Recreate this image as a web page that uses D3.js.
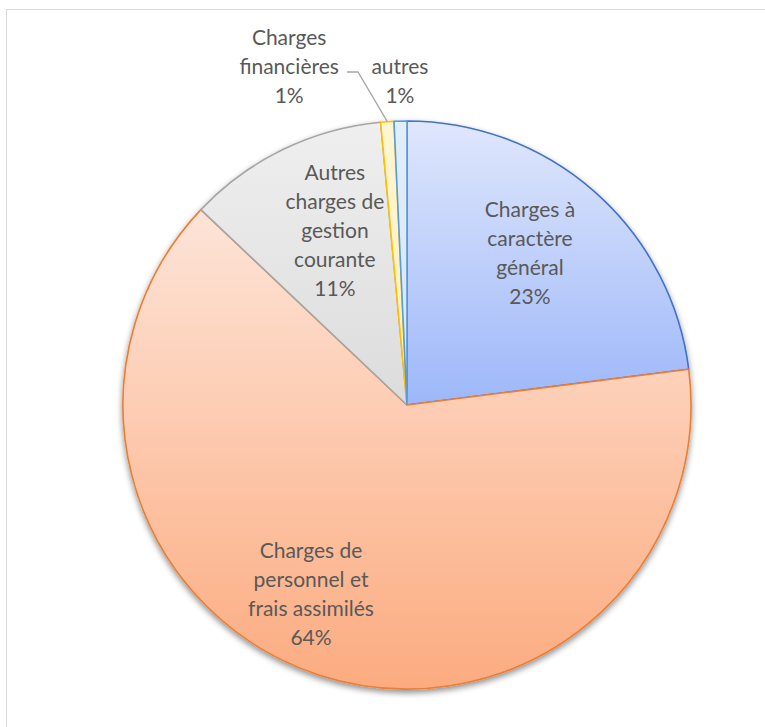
<!DOCTYPE html>
<html><head><meta charset="utf-8">
<script src="https://cdn.jsdelivr.net/npm/d3@7"></script>
<style>body{margin:0;background:#fff}svg{display:block}</style>
</head><body>
<svg id="c" width="765" height="727"></svg>
<script>
const categories = ["Charges à caractère général","Charges de personnel et frais assimilés","Autres charges de gestion courante","Charges financières","autres"];
const values = [23.0, 64.1, 11.45, 0.75, 0.73];
const labelLines = [["Charges à","caractère","général"],["Charges de","personnel et","frais assimilés"],["Autres","charges de","gestion","courante"],["Charges","financières"],["autres"]];
const strokeColors = ["#4472c4","#ed7d31","#a5a5a5","#ffc000","#5b9bd5"];
const gradTop = ["#dfe7fc","#fde4d8","#efefef","#fff5d2","#e2eefa"];
const gradBot = ["#9db7f9","#fcab7f","#dcdcdc","#fff0bf","#d3e6f7"];
// label anchors (block centres), relative to pie centre in units of radius
const labelAnchor = [[0.433,-0.535],[-0.338,0.665],[-0.254,-0.614],[-0.415,-1.19],[-0.025,-1.14]];

const W=765,H=727,cx=407,cy=405,R=284;
const svg=d3.select("#c");
const defs=svg.append("defs");
svg.append("rect").attr("x",6.5).attr("y",9.5).attr("width",900).attr("height",900)
  .attr("fill","#fff").attr("stroke","#d9d9d9").attr("stroke-width",1);

const f=defs.append("filter").attr("id","sh").attr("x","-20%").attr("y","-20%").attr("width","140%").attr("height","140%");
f.append("feGaussianBlur").attr("in","SourceAlpha").attr("stdDeviation",3).attr("result","b");
f.append("feOffset").attr("in","b").attr("dx",0).attr("dy",3).attr("result","o");
f.append("feComponentTransfer").attr("in","o").attr("result","o2").append("feFuncA").attr("type","linear").attr("slope",0.45);
const m=f.append("feMerge");m.append("feMergeNode").attr("in","o2");m.append("feMergeNode").attr("in","SourceGraphic");

categories.forEach((c,i)=>{
  const g=defs.append("linearGradient").attr("id","g"+i).attr("x1",0).attr("y1",0).attr("x2",0).attr("y2",1);
  g.append("stop").attr("offset","0%").attr("stop-color",gradTop[i]);
  g.append("stop").attr("offset","100%").attr("stop-color",gradBot[i]);
});

const pie=d3.pie().sort(null).value(d=>d)(values);
const arc=d3.arc().innerRadius(0).outerRadius(R);
const gp=svg.append("g").attr("transform",`translate(${cx},${cy})`);
const total=d3.sum(values);
gp.append("g").attr("filter","url(#sh)").selectAll("path").data(pie).join("path")
  .attr("d",arc).attr("fill",(d,i)=>`url(#g${i})`).attr("stroke",(d,i)=>strokeColors[i]).attr("stroke-width",1.6)
  .attr("stroke-linejoin","round");

// leader line for Charges financières
const fin=pie[3];
const ea=(fin.startAngle+fin.endAngle)/2;
const px=R*Math.sin(ea)*1.0, py=-R*Math.cos(ea)*1.0;
gp.append("path").attr("d",`M${347-cx},${72-cy}L${358-cx},${72-cy}L${px},${py}`)
  .attr("fill","none").attr("stroke","#a6a6a6").attr("stroke-width",1.3);

const lh=29;
pie.forEach((d,i)=>{
  const lines=labelLines[i].concat([Math.round(values[i]/total*100)+"%"]);
  const x=labelAnchor[i][0]*R, y=labelAnchor[i][1]*R;
  const t=gp.append("text").attr("text-anchor","middle").attr("font-family","Lato, 'Open Sans', sans-serif")
    .attr("font-size",21).attr("fill","#595959");
  lines.forEach((l,j)=>{
    t.append("tspan").attr("x",x).attr("y",y+(j-(lines.length-1)/2)*lh).attr("dy","0.35em").text(l);
  });
});
</script>
</body></html>
